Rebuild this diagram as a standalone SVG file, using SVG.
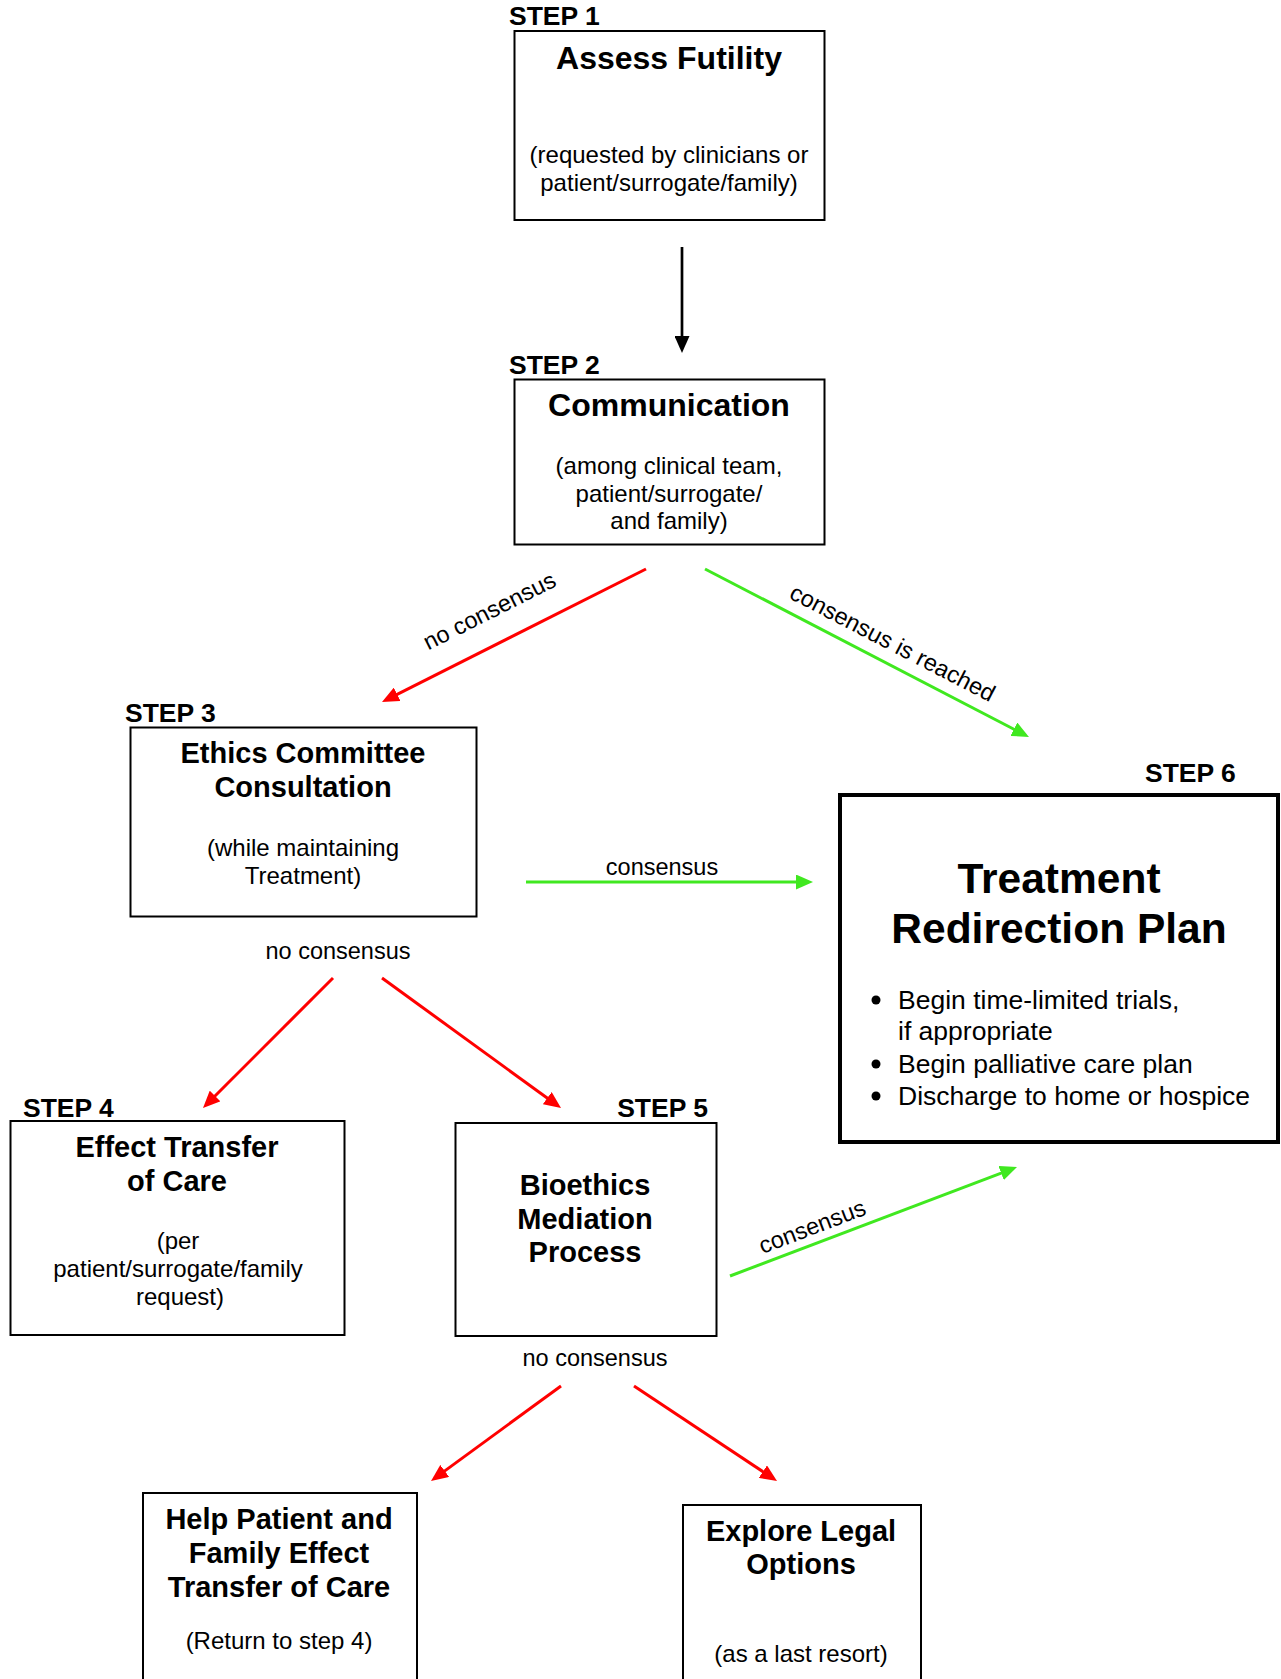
<svg xmlns="http://www.w3.org/2000/svg" width="1281" height="1679" viewBox="0 0 1281 1679">
<style>
text{font-family:"Liberation Sans",Arial,sans-serif;fill:#000}
.step{font-size:26.5px;font-weight:bold}
.t32{font-size:32px;font-weight:bold;text-anchor:middle}
.t29{font-size:29px;font-weight:bold;text-anchor:middle}
.t42{font-size:42.5px;font-weight:bold;text-anchor:middle}
.sub{font-size:24px;text-anchor:middle}
.bul{font-size:26.5px}
.lbl{font-size:23.5px;text-anchor:middle}
.box{fill:#fff;stroke:#000;stroke-width:2}
.box6{fill:#fff;stroke:#000;stroke-width:4}
.k{stroke:#000;stroke-width:2.7;fill:none}
.r{stroke:#ff0000;stroke-width:3;fill:none}
.g{stroke:#40e820;stroke-width:3;fill:none}
</style>
<defs>
<marker id="ak" markerUnits="userSpaceOnUse" markerWidth="17" markerHeight="15" refX="5" refY="7.5" orient="auto"><path d="M0,0 L17,7.5 L0,15 z" fill="#000"/></marker>
<marker id="ar" markerUnits="userSpaceOnUse" markerWidth="17" markerHeight="15" refX="5" refY="7.5" orient="auto"><path d="M0,0 L17,7.5 L0,15 z" fill="#ff0000"/></marker>
<marker id="ag" markerUnits="userSpaceOnUse" markerWidth="17" markerHeight="15" refX="5" refY="7.5" orient="auto"><path d="M0,0 L17,7.5 L0,15 z" fill="#40e820"/></marker>
</defs>
<rect width="1281" height="1679" fill="#fff"/>

<g id="connectors">
<line class="k" x1="682" y1="247" x2="682" y2="341" marker-end="url(#ak)"/>
<line class="r" x1="646" y1="569" x2="392.7" y2="696.6" marker-end="url(#ar)"/>
<text class="lbl" transform="translate(493,618) rotate(-26.7)">no consensus</text>
<line class="g" x1="705" y1="569" x2="1018.3" y2="731.5" marker-end="url(#ag)"/>
<text class="lbl" transform="translate(889,650) rotate(27.4)">consensus is reached</text>
<line class="g" x1="526" y1="882" x2="801" y2="882" marker-end="url(#ag)"/>
<text class="lbl" x="662" y="875">consensus</text>
<text class="lbl" x="338" y="959">no consensus</text>
<line class="r" x1="333" y1="978" x2="211.5" y2="1099.5" marker-end="url(#ar)"/>
<line class="r" x1="382" y1="978" x2="551.3" y2="1101" marker-end="url(#ar)"/>
<line class="g" x1="730" y1="1276" x2="1005.8" y2="1171.3" marker-end="url(#ag)"/>
<text class="lbl" transform="translate(815,1234) rotate(-20.8)">consensus</text>
<text class="lbl" x="595" y="1366">no consensus</text>
<line class="r" x1="561" y1="1386" x2="440.7" y2="1473.9" marker-end="url(#ar)"/>
<line class="r" x1="634" y1="1386" x2="767" y2="1474.4" marker-end="url(#ar)"/>
</g>

<g id="step1">
<text class="step" x="509" y="25">STEP 1</text>
<rect class="box" x="514.5" y="31" width="310" height="189"/>
<text class="t32" x="669" y="69">Assess Futility</text>
<text class="sub" x="669" y="163">(requested by clinicians or</text>
<text class="sub" x="669" y="191">patient/surrogate/family)</text>
</g>

<g id="step2">
<text class="step" x="509" y="374">STEP 2</text>
<rect class="box" x="514.5" y="379.5" width="310" height="165"/>
<text class="t32" x="669" y="416">Communication</text>
<text class="sub" x="669" y="474">(among clinical team,</text>
<text class="sub" x="669" y="502">patient/surrogate/</text>
<text class="sub" x="669" y="529">and family)</text>
</g>

<g id="step3">
<text class="step" x="125" y="722">STEP 3</text>
<rect class="box" x="130.5" y="727.5" width="346" height="189"/>
<text class="t29" x="303" y="763">Ethics Committee</text>
<text class="t29" x="303" y="797">Consultation</text>
<text class="sub" x="303" y="856">(while maintaining</text>
<text class="sub" x="303" y="884">Treatment)</text>
</g>

<g id="step4">
<text class="step" x="23" y="1117">STEP 4</text>
<rect class="box" x="10.5" y="1121" width="334" height="214"/>
<text class="t29" x="177" y="1157">Effect Transfer</text>
<text class="t29" x="177" y="1191">of Care</text>
<text class="sub" x="178" y="1249">(per</text>
<text class="sub" x="178" y="1277">patient/surrogate/family</text>
<text class="sub" x="180" y="1305">request)</text>
</g>

<g id="step5">
<text class="step" x="708" y="1117" text-anchor="end">STEP 5</text>
<rect class="box" x="455.5" y="1123" width="261" height="213"/>
<text class="t29" x="585" y="1195">Bioethics</text>
<text class="t29" x="585" y="1229">Mediation</text>
<text class="t29" x="585" y="1262">Process</text>
</g>

<g id="step6">
<text class="step" x="1145" y="782">STEP 6</text>
<rect class="box6" x="840" y="795" width="438" height="347"/>
<text class="t42" x="1059" y="893">Treatment</text>
<text class="t42" x="1059" y="943">Redirection Plan</text>
<circle cx="876" cy="1000" r="4.5"/>
<text class="bul" x="898" y="1009">Begin time-limited trials,</text>
<text class="bul" x="898" y="1040">if appropriate</text>
<circle cx="876" cy="1064" r="4.5"/>
<text class="bul" x="898" y="1073">Begin palliative care plan</text>
<circle cx="876" cy="1096" r="4.5"/>
<text class="bul" x="898" y="1105">Discharge to home or hospice</text>
</g>

<g id="help-transfer">
<rect class="box" x="143" y="1493" width="274" height="200"/>
<text class="t29" x="279" y="1529">Help Patient and</text>
<text class="t29" x="279" y="1563">Family Effect</text>
<text class="t29" x="279" y="1597">Transfer of Care</text>
<text class="sub" x="279" y="1649">(Return to step 4)</text>
</g>

<g id="legal-options">
<rect class="box" x="683" y="1505" width="238" height="200"/>
<text class="t29" x="801" y="1541">Explore Legal</text>
<text class="t29" x="801" y="1574">Options</text>
<text class="sub" x="801" y="1662">(as a last resort)</text>
</g>
</svg>
